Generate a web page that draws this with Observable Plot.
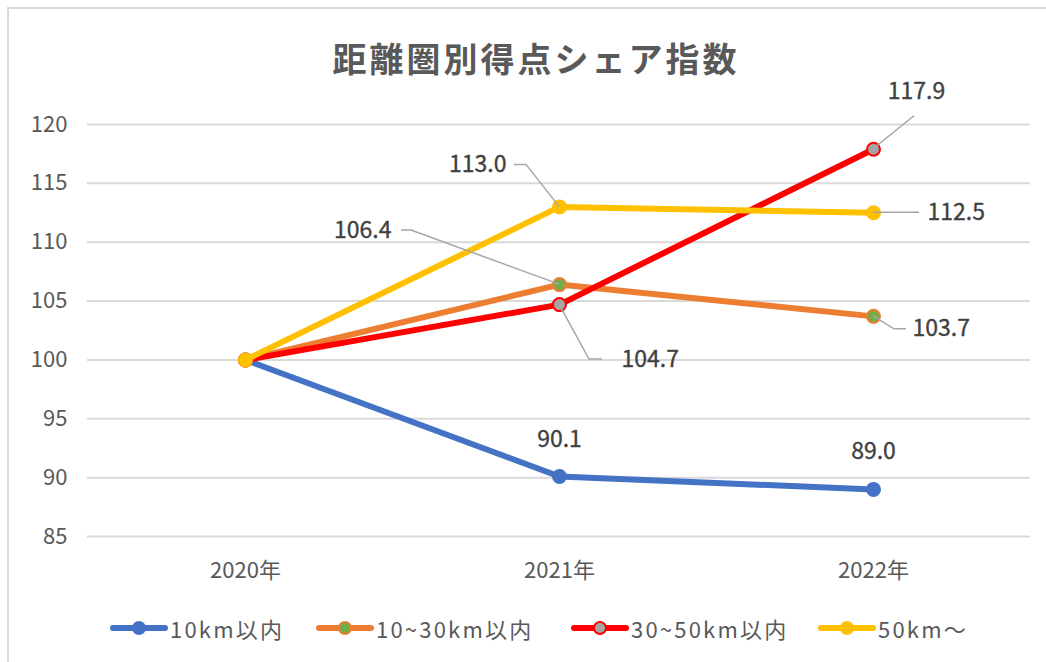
<!DOCTYPE html>
<html><head><meta charset="utf-8">
<script src="https://cdn.jsdelivr.net/npm/d3@7"></script>
<script src="https://cdn.jsdelivr.net/npm/@observablehq/plot@0.6"></script>
<style>
body{margin:0;background:#fff;font-family:"Noto Sans CJK JP","Noto Sans",sans-serif;width:1046px;height:662px;overflow:hidden;position:relative;}
#frame{position:absolute;left:7px;top:7px;width:1100px;height:720px;border:2px solid #d9d9d9;box-sizing:border-box;}
#title{position:absolute;left:0;width:1072px;top:34px;text-align:center;font-size:34px;line-height:48px;font-weight:bold;color:#595959;letter-spacing:3px;}
#chart{position:absolute;left:0;top:70px;}
#legend{position:absolute;top:612px;left:0;width:1046px;height:32px;font-size:22px;color:#595959;}
.item{position:absolute;top:0;height:32px;display:flex;align-items:center;letter-spacing:2.2px;}
.item svg{margin-right:2px;}
</style></head>
<body>
<div id="frame"></div>
<div id="title">距離圏別得点シェア指数</div>
<div id="chart"></div>
<div id="legend"></div>
<script>
// ---- data ----
const years = ["2020年", "2021年", "2022年"];
const seriesNames = ["10km以内", "10~30km以内", "30~50km以内", "50km～"];
const v10 = [100, 90.1, 89.0];
const v10to30 = [100, 106.4, 103.7];
const v30to50 = [100, 104.7, 117.9];
const v50 = [100, 113.0, 112.5];
const yTicks = [85, 90, 95, 100, 105, 110, 115, 120];

// ---- styles ----
const lineColors = ["#4472C4", "#ED7D31", "#FF0000", "#FFC000"];
const markerFills = ["#4472C4", "#70AD47", "#A5A5A5", "#FFC000"];
const legendLeft = [110, 316, 571, 818];
const allValues = [v10, v10to30, v30to50, v50];

const rows = [];
allValues.forEach((vals, s) => vals.forEach((v, i) => rows.push({series: seriesNames[s], s, year: years[i], value: v})));

// label placement (series index, year index, offsets in px, anchor, leader path relative to point)
const labelCfg = [
  {s: 0, i: 1, dx: 0, dy: -37, anchor: "middle"},
  {s: 0, i: 2, dx: 0, dy: -38, anchor: "middle"},
  {s: 1, i: 1, dx: -168, dy: -54, anchor: "end", path: [[-158,-54],[-148,-54],[0,0]]},
  {s: 1, i: 2, dx: 39, dy: 12, anchor: "start", path: [[0,0],[21,13],[33,13]]},
  {s: 2, i: 1, dx: 62, dy: 55, anchor: "start", path: [[0,0],[30,55],[43,55]]},
  {s: 2, i: 2, dx: 43, dy: -58, anchor: "middle", path: [[0,0],[41,-33]]},
  {s: 3, i: 1, dx: -53, dy: -42, anchor: "end", path: [[-45,-42],[-33,-42],[0,0]]},
  {s: 3, i: 2, dx: 54, dy: 0, anchor: "start", path: [[0,0],[46,0]]}
];

const marks = [
  Plot.gridY(yTicks, {stroke: "#d9d9d9", strokeWidth: 2, strokeOpacity: 1}),
  Plot.axisY(yTicks, {tickSize: 0, tickPadding: 20, fontSize: 22, fill: "#595959", stroke: "#595959", strokeWidth: 0.35, style: "letter-spacing:1px"}),
  Plot.axisX({tickSize: 0, tickPadding: 26, fontSize: 22, fill: "#595959", stroke: "#595959", strokeWidth: 0.3, style: "letter-spacing:1.5px"})
];
seriesNames.forEach((name, s) => {
  const d = rows.filter(r => r.s === s);
  marks.push(Plot.line(d, {x: "year", y: "value", stroke: lineColors[s], strokeWidth: 6, strokeLinejoin: "round", strokeLinecap: "round"}));
  marks.push(Plot.dot(d, {x: "year", y: "value", r: 6.5, fill: markerFills[s], stroke: lineColors[s], strokeWidth: 2}));
});
marks.push((index, scales) => {
  const g = d3.create("svg:g");
  for (const L of labelCfg) {
    if (!L.path) continue;
    const px = scales.x(years[L.i]), py = scales.y(allValues[L.s][L.i]);
    g.append("path")
      .attr("d", d3.line()(L.path.map(([a, b]) => [px + a, py + b])))
      .attr("fill", "none").attr("stroke", "#a6a6a6").attr("stroke-width", 1.5);
  }
  return g.node();
});
labelCfg.forEach(L => {
  const d = [{year: years[L.i], value: allValues[L.s][L.i]}];
  marks.push(Plot.text(d, {x: "year", y: "value", text: r => r.value.toFixed(1), dx: L.dx, dy: L.dy, textAnchor: L.anchor, fontSize: 23, fill: "#404040", stroke: "#404040", strokeWidth: 0.35, style: "letter-spacing:1.5px"}));
});

const chart = Plot.plot({
  width: 1046, height: 520,
  marginLeft: 87, marginRight: 16, marginTop: 54, marginBottom: 54,
  style: {fontFamily: '"Noto Sans CJK JP", "Noto Sans", sans-serif', background: "transparent", overflow: "visible"},
  x: {type: "point", domain: years, padding: 0.5, label: null},
  y: {domain: [85, 120], label: null},
  marks
});
document.getElementById("chart").appendChild(chart);

// legend
const legend = d3.select("#legend");
seriesNames.forEach((name, s) => {
  const item = legend.append("div").attr("class", "item").style("left", legendLeft[s] + "px");
  const svg = item.append("svg").attr("width", 58).attr("height", 20);
  svg.append("line").attr("x1", 3).attr("x2", 55).attr("y1", 10).attr("y2", 10)
    .attr("stroke", lineColors[s]).attr("stroke-width", 6).attr("stroke-linecap", "round");
  svg.append("circle").attr("cx", 29).attr("cy", 10).attr("r", 6)
    .attr("fill", markerFills[s]).attr("stroke", lineColors[s]).attr("stroke-width", 2);
  item.append("span").text(name);
});
</script>
</body></html>
